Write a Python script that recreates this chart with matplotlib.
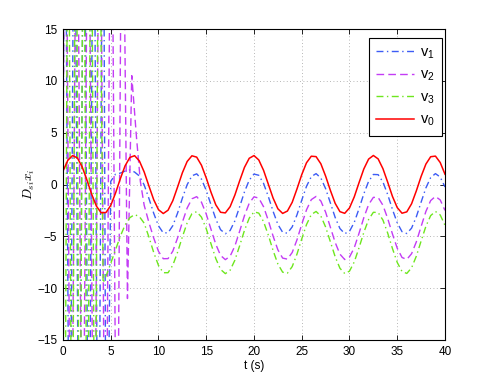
import numpy as np
import matplotlib
matplotlib.use("Agg")
import matplotlib.pyplot as plt

plt.rcParams['font.family'] = ['Liberation Sans', 'DejaVu Sans']
plt.rcParams['mathtext.fontset'] = 'custom'
plt.rcParams['mathtext.rm'] = 'Liberation Sans'
plt.rcParams['mathtext.it'] = 'Liberation Sans:italic'

# v0: reference signal on a 0.5 s grid
t0 = np.arange(0, 40.01, 0.5)
v0 = [1.29, 2.33, 2.79, 2.57, 1.72, 0.45, -0.93, -2.09, -2.73, -2.70,
      -2.02, -0.83, 0.55, 1.80, 2.61, 2.78, 2.27, 1.21, -0.15, -1.47,
      -2.43, -2.80, -2.48, -1.56, -0.24, 1.13, 2.22, 2.77, 2.64, 1.86,
      0.63, -0.75, -1.96, -2.68, -2.74, -2.14, -1.01, 0.36, 1.65, 2.53,
      2.79, 2.37, 1.37, 0.03, -1.31, -2.34, -2.79, -2.56, -1.72, -0.43,
      0.95, 2.10, 2.73, 2.69, 2.00, 0.81, -0.57, -1.82, -2.62, -2.78,
      -2.26, -1.19, 0.18, 1.50, 2.45, 2.80, 2.47, 1.53, 0.22, -1.15,
      -2.23, -2.77, -2.64, -1.86, -0.61, 0.78, 1.97, 2.68, 2.74, 2.12,
      0.99]

# v1: chattering start, then steady part from t = 8 s
v1_head_t = [0, 0.2, 0.7, 1.2, 1.7, 2.2, 2.7, 3.2, 3.7, 4.2, 4.55,
             5.0, 5.5, 6.0, 6.5, 7.0, 7.5]
v1_head = [2, 40, -40, 40, -40, 40, -40, 40, -40, 40, -40,
           0.3, 1.0, 1.1, 1.3, 1.4, 1.2]
v1_tail_t = np.arange(8, 40.01, 0.5)
v1_tail = [0.82, -0.04, -1.35, -2.78,
           -3.99, -4.67, -4.66, -3.97, -2.75, -1.32, -0.02, 0.84, 1.03, 0.52,
           -0.57, -1.97, -3.34, -4.36, -4.75, -4.44, -3.50, -2.14, -0.72, 0.42,
           1.01, 0.89, 0.11, -1.16, -2.59, -3.85, -4.61, -4.70, -4.09, -2.93,
           -1.51, -0.17, 0.76, 1.05, 0.63, -0.40, -1.78, -3.18, -4.25, -4.74,
           -4.52, -3.65, -2.33, -0.90, 0.30, 0.97, 0.95, 0.25, -0.97, -2.41,
           -3.70, -4.55, -4.73, -4.21, -3.11, -1.70, -0.33, 0.67, 1.05, 0.72,
           -0.24]

# v2
v2_head_t = [0, 0.25, 0.85, 1.45, 2.05, 2.65, 3.25, 3.85, 4.45, 5.05, 5.65,
             6.2, 6.75, 7.2, 7.7, 8.1, 8.5]
v2_head = [1.5, 40, -40, 40, -40, 40, -40, 40, -40, 40, -40,
           40, -11, 10.5, 4.5, 0.3, -2.0]
v2_tail_t = np.arange(9, 40.01, 0.5)
v2_tail = [-3.67, -5.17,
           -6.45, -7.16, -7.15, -6.43, -5.15, -3.64, -2.27, -1.38, -1.17, -1.71,
           -2.85, -4.33, -5.77, -6.84, -7.25, -6.92, -5.93, -4.50, -3.01, -1.81,
           -1.19, -1.31, -2.14, -3.47, -4.98, -6.30, -7.10, -7.20, -6.56, -5.34,
           -3.84, -2.44, -1.46, -1.15, -1.59, -2.67, -4.13, -5.59, -6.72, -7.24,
           -7.00, -6.10, -4.70, -3.20, -1.94, -1.24, -1.25, -2.00, -3.28, -4.78,
           -6.15, -7.04, -7.23, -6.68, -5.53, -4.05, -2.60, -1.55, -1.15, -1.49,
           -2.50]

# v3
v3_head_t = [0, 0.15, 0.55, 0.95, 1.35, 1.75, 2.15, 2.55, 2.95, 3.35, 3.75,
             4.2, 4.6, 5.0, 5.5, 6.0, 6.5, 7.0, 7.5, 8.0]
v3_head = [1.0, -40, 40, -40, 40, -40, 40, -40, 40, -40, 40,
           -9.5, -8.6, -7.6, -6.3, -5.0, -3.9, -3.2, -2.9, -3.1]
v3_tail_t = np.arange(8.5, 40.01, 0.5)
v3_tail = [-3.73, -5.08, -6.56,
           -7.81, -8.51, -8.51, -7.79, -6.53, -5.05, -3.71, -2.82, -2.62, -3.15,
           -4.27, -5.73, -7.15, -8.19, -8.60, -8.27, -7.30, -5.90, -4.43, -3.25,
           -2.64, -2.76, -3.58, -4.88, -6.37, -7.67, -8.46, -8.55, -7.92, -6.72,
           -5.25, -3.86, -2.90, -2.60, -3.04, -4.10, -5.53, -6.97, -8.08, -8.59,
           -8.36, -7.47, -6.10, -4.62, -3.38, -2.68, -2.70, -3.43, -4.69, -6.18,
           -7.52, -8.39, -8.58, -8.04, -6.91, -5.45, -4.03, -3.00, -2.60, -2.94,
           -3.93]

labels = ['v$_1$', 'v$_2$', 'v$_3$', 'v$_0$']

fig = plt.figure(figsize=(4.91, 3.82), dpi=100)
ax = fig.add_axes([0.1283, 0.110, 0.778, 0.814])

blue = '#3d5cf5'
purple = '#c33cf5'
green = '#6ee61e'

l1, = ax.plot(np.r_[v1_head_t, v1_tail_t], np.r_[v1_head, v1_tail],
              color=blue, lw=1.0, dashes=(5, 2.5, 1, 2.5))
l2, = ax.plot(np.r_[v2_head_t, v2_tail_t], np.r_[v2_head, v2_tail],
              color=purple, lw=1.0, dashes=(5.5, 3))
l3, = ax.plot(np.r_[v3_head_t, v3_tail_t], np.r_[v3_head, v3_tail],
              color=green, lw=1.0, dashes=(5, 2.5, 1, 2.5))
l0, = ax.plot(t0, v0, color='#ff0000', lw=1.1)

ax.set_xlim(0, 40)
ax.set_ylim(-15, 15)
ax.set_xticks(np.arange(0, 41, 5))
ax.set_yticks(np.arange(-15, 16, 5))
ax.grid(True, linestyle=(0, (1, 3)), color='#a0a0a0', linewidth=0.6)
ax.tick_params(direction='in', length=3.5, width=0.6, top=True, right=True,
               labelsize=8.5, pad=4)
for s in ax.spines.values():
    s.set_linewidth(0.8)

ax.set_xlabel('t (s)', fontsize=8.5, labelpad=2)
ax.set_ylabel('$D_{si}x_i$', fontsize=9.5, math_fontfamily='cm', labelpad=0)

leg = ax.legend([l1, l2, l3, l0], labels, loc='upper right',
                bbox_to_anchor=(0.992, 0.971), borderaxespad=0,
                fontsize=10.5, handlelength=2.6,
                labelspacing=0.49, handletextpad=0.4, borderpad=0.5,
                fancybox=False, framealpha=1, edgecolor='black')
leg.get_frame().set_linewidth(0.8)

fig.savefig('out.png', dpi=100)
